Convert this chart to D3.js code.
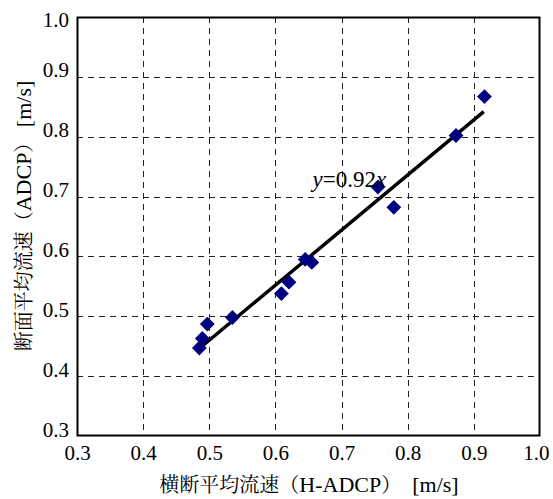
<!DOCTYPE html>
<html>
<head>
<meta charset="utf-8">
<script src="https://cdn.jsdelivr.net/npm/d3@7"></script>
<style>
  body { margin: 0; background: #fff; }
</style>
</head>
<body>
<div class="chart"></div>
<script>
// H-ADCP vs ADCP mean velocity [m/s]
const hadcp = [0.485, 0.4895, 0.497, 0.535, 0.609, 0.6205, 0.645, 0.655, 0.755, 0.779, 0.873, 0.916];
const adcp = [0.447, 0.463, 0.487, 0.498, 0.538, 0.557, 0.595, 0.59, 0.716, 0.682, 0.802, 0.867];
const ticks = [0.3, 0.4, 0.5, 0.6, 0.7, 0.8, 0.9, 1.0];
const slope = 0.92;
const fitRange = [0.485, 0.915];
// axis titles split into CJK / latin runs
const xTitle = [["横断平均流速（", "cjk"], ["H-ADCP", "lat"], ["）", "cjk"], ["  [m/s]", "lat"]];
const yTitle = [["断面平均流速（", "cjk"], ["ADCP", "lat"], ["）", "cjk"], [" [m/s]", "lat"]];

const latin = "Times New Roman";
const cjk = "Noto Serif CJK JP";
const margin = { top: 17, right: 13, bottom: 63, left: 77 };
const width = 553 - margin.left - margin.right,
  height = 499 - margin.top - margin.bottom;

let svg = d3
  .select(".chart")
  .append("svg")
  .attr("width", 553)
  .attr("height", 499)
  .attr("font-family", latin)
  .append("g")
  .attr("transform", `translate(${margin.left}, ${margin.top})`);

let x = d3.scaleLinear().domain([0.3, 1.0]).range([0, width]);
let y = d3.scaleLinear().domain([0.3, 1.0]).range([height, 0]);

// dashed grid
svg
  .append("g")
  .selectAll("line")
  .data(ticks.slice(1, -1))
  .join("line")
  .attr("x1", (d) => Math.round(x(d)) + 0.5)
  .attr("x2", (d) => Math.round(x(d)) + 0.5)
  .attr("y1", 0)
  .attr("y2", height)
  .attr("stroke", "#222")
  .attr("stroke-dasharray", "6,5");
svg
  .append("g")
  .selectAll("line")
  .data(ticks.slice(1, -1))
  .join("line")
  .attr("x1", 0)
  .attr("x2", width)
  .attr("y1", (d) => Math.round(y(d)) + 0.5)
  .attr("y2", (d) => Math.round(y(d)) + 0.5)
  .attr("stroke", "#222")
  .attr("stroke-dasharray", "6,5");

// axes (labels only)
let xAxis = svg
  .append("g")
  .attr("transform", `translate(0, ${height})`)
  .call(d3.axisBottom(x).tickValues(ticks).tickSize(0).tickPadding(9).tickFormat(d3.format(".1f")));
xAxis.select(".domain").remove();
xAxis.attr("font-family", latin).attr("font-size", 21);
xAxis
  .selectAll("text")
  .attr("font-family", latin)
  .style("font-family", latin)
  .attr("fill", "#000")
  .attr("dx", (d) => (d === 1.0 ? "-0.2em" : "0em"))
  .attr("dy", "0.71em");

let yAxis = svg
  .append("g")
  .call(d3.axisLeft(y).tickValues(ticks).tickSize(0).tickPadding(8).tickFormat(d3.format(".1f")));
yAxis.select(".domain").remove();
yAxis.attr("font-family", latin).attr("font-size", 21);
yAxis
  .selectAll("text")
  .attr("font-family", latin)
  .style("font-family", latin)
  .attr("fill", "#000")
  .attr("dy", (d) => (d === 1.0 ? "0.45em" : "0em"));

// frame
svg
  .append("rect")
  .attr("x", 0.5)
  .attr("y", 0.5)
  .attr("width", width - 1)
  .attr("height", height - 1)
  .attr("fill", "none")
  .attr("stroke", "#000")
  .attr("stroke-width", 2);

// fit line
svg
  .append("line")
  .attr("x1", x(fitRange[0]))
  .attr("y1", y(fitRange[0] * slope))
  .attr("x2", x(fitRange[1]))
  .attr("y2", y(fitRange[1] * slope))
  .attr("stroke", "#000")
  .attr("stroke-width", 3.5);

// points
svg
  .selectAll(".pt")
  .data(hadcp)
  .join("path")
  .attr("class", "pt")
  .attr("d", d3.symbol(d3.symbolDiamond2, 140))
  .attr("transform", (d, i) => `translate(${x(d)}, ${y(adcp[i])})`)
  .attr("fill", "#000080");

// equation
let eq = svg
  .append("text")
  .attr("x", x(0.656))
  .attr("y", y(0.716))
  .attr("font-family", latin)
  .style("font-family", latin)
  .style("font-size", "23px");
eq.append("tspan").style("font-style", "italic").text("y");
eq.append("tspan").text("=" + slope);
eq.append("tspan").style("font-style", "italic").text("x");

// axis titles
function title(el, parts) {
  el.selectAll("tspan")
    .data(parts)
    .join("tspan")
    .attr("font-family", (d) => (d[1] === "cjk" ? cjk : latin))
    .style("font-family", (d) => (d[1] === "cjk" ? cjk : latin))
    .style("font-size", (d) => (d[1] === "cjk" ? "20px" : "22px"))
    .style("white-space", "pre")
    .text((d) => d[0]);
}
svg
  .append("text")
  .attr("x", 232)
  .attr("y", height + 56)
  .style("text-anchor", "middle")
  .call(title, xTitle);
svg
  .append("text")
  .attr("transform", "rotate(-90)")
  .attr("x", -199)
  .attr("y", -46)
  .style("text-anchor", "middle")
  .call(title, yTitle);
</script>
</body>
</html>
